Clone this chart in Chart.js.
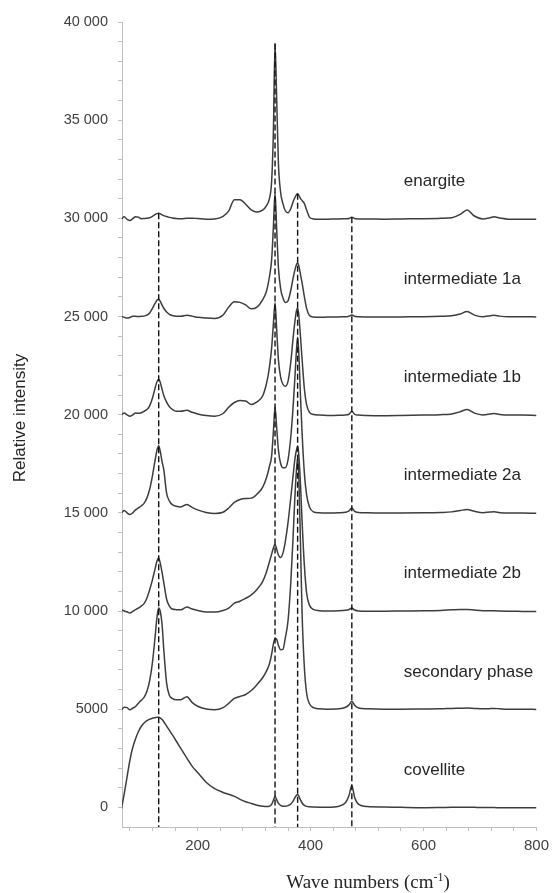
<!DOCTYPE html>
<html>
<head>
<meta charset="utf-8">
<script src="https://cdn.jsdelivr.net/npm/chart.js@4"></script>
<style>
  html, body { margin: 0; padding: 0; background: #fff; }
  #wrap { width: 555px; height: 893px; }
</style>
</head>
<body>
<div id="wrap"><canvas id="spectra" width="555" height="893"></canvas></div>
<script>
// wave numbers (cm-1), shared by every spectrum
const wavenumbers = [
  65, 70, 75, 80, 85, 90, 95, 100, 105, 110,
  115, 120, 125, 128, 131, 134, 137, 140, 145, 150,
  155, 162, 170, 181, 190, 200, 215, 230, 245, 255,
  265, 275, 285, 295, 305, 315, 322, 327, 331, 334,
  337, 340, 343, 347, 351, 355, 360, 365, 369, 372,
  375, 377, 379, 382, 385, 389, 393, 398, 405, 415,
  430, 450, 462, 468, 473, 478, 485, 500, 530, 560,
  600, 630, 650, 665, 677, 690, 705, 718, 725, 735,
  750, 775, 800
];

// spectra, already stacked (offset 5000 apart)
const enargite = [
  29960, 30080, 29950, 29890, 29980, 30080, 30060, 29980, 29990, 30000,
  30030, 30100, 30200, 30240, 30260, 30230, 30180, 30140, 30090, 30050,
  30020, 29990, 29980, 30000, 30010, 29990, 29960, 29970, 30100, 30380,
  30950, 30950, 30720, 30430, 30320, 30420, 30650, 31000, 31900, 34300,
  38900, 36000, 32800, 31300, 30750, 30400, 30280, 30500, 30850, 31050,
  31200, 31250, 31180, 31020, 30900, 30750, 30420, 30060, 29970, 29950,
  29960, 29970, 29980, 29990, 30060, 29990, 29970, 29970, 29960, 29970,
  29980, 30000, 30030, 30200, 30430, 30120, 29970, 30030, 30080, 30020,
  29960, 29960, 29950
];
const intermediate1a = [
  25010, 24960, 24920, 24950, 25010, 25010, 25000, 25010, 25020, 25070,
  25180, 25420, 25690, 25830, 25880, 25760, 25580, 25420, 25230, 25110,
  25050, 25010, 25010, 25060, 25020, 24960, 24920, 24900, 25080, 25480,
  25750, 25720, 25590, 25390, 25480, 25850, 26300, 27000, 27900, 29500,
  31300, 29400, 27500, 26400, 25950, 25720, 25800, 26350, 26950, 27350,
  27650, 27720, 27600, 27150, 26700, 26000, 25400, 25050, 24970, 24960,
  24970, 24980, 24990, 25010, 25080, 25010, 24990, 24980, 24970, 24980,
  24990, 25010, 25040, 25130, 25250, 25070, 24990, 25040, 25070, 25020,
  24990, 24990, 24980
];
const intermediate1b = [
  20000, 20080, 19990, 19920, 19990, 20080, 20070, 20100, 20170, 20260,
  20450, 20850, 21400, 21680, 21800, 21620, 21280, 20980, 20640, 20400,
  20270, 20170, 20170, 20220, 20120, 20040, 19960, 19920, 20060, 20380,
  20620, 20720, 20700, 20520, 20650, 20950, 21600, 22400, 23400, 24600,
  25700, 24300, 22800, 21900, 21550, 21450, 21700, 22700, 23900, 24700,
  25300, 25450, 25100, 24000, 22800, 21300, 20500, 20120, 20010, 19980,
  19960, 19970, 19990, 20020, 20170, 20020, 19980, 19960, 19950, 19960,
  19980, 20000, 20040, 20150, 20260, 20080, 19990, 20030, 20060, 20010,
  19980, 19980, 19960
];
const intermediate2a = [
  15000, 15120, 15000, 14920, 15000, 15150, 15250, 15350, 15480, 15750,
  16200, 16900, 17750, 18200, 18420, 18100, 17600, 17200, 16000, 15600,
  15420, 15340, 15300, 15430, 15280, 15150, 15020, 14970, 15030, 15250,
  15530, 15680, 15730, 15750, 15950, 16300, 16800, 17350, 17900, 19100,
  20400, 19300, 18200, 17500, 17300, 17300, 17700, 18900, 20400, 21800,
  23300, 23950, 23200, 21000, 19000, 17000, 15900, 15300, 15050, 15000,
  14990, 15000, 15030, 15100, 15250, 15080, 15020, 15000, 14990, 14990,
  15000, 15020, 15050, 15120, 15170, 15080, 15010, 15040, 15050, 15010,
  14990, 14990, 14980
];
const intermediate2b = [
  10070, 10000, 9960, 9900, 9980, 10070, 10150, 10250, 10380, 10650,
  11080, 11600, 12200, 12550, 12700, 12400, 11950, 11450, 10600, 10250,
  10100, 10070, 10060, 10200, 10100, 10030, 9950, 9950, 10030, 10150,
  10400, 10500, 10650, 10820, 11100, 11500, 12000, 12500, 12900, 13200,
  13400, 13150, 12850, 12720, 12950, 13500, 14500, 15800, 16900, 17700,
  18200, 18400, 18000, 16500, 14500, 12300, 10900, 10300, 10080, 10020,
  10000, 10010, 10040, 10080, 10150, 10050, 10000, 9990, 9990, 10000,
  10010, 10030, 10060, 10080, 10080, 10050, 10020, 10010, 10010, 10000,
  9990, 9980, 9970
];
const secondaryPhase = [
  4970, 5100, 5080, 4970, 5050, 5140, 5300, 5450, 5600, 5900,
  6450, 7400, 8800, 9700, 10150, 9950, 9300, 8030, 6330, 5700,
  5550, 5480, 5480, 5640, 5350, 5150, 5010, 4970, 5080, 5300,
  5550, 5650, 5750, 5950, 6250, 6600, 6950, 7300, 7800, 8300,
  8600, 8550, 8250, 8030, 8050, 8600, 9500, 11500, 13800, 15700,
  17200, 17800, 17000, 13500, 9800, 7100, 5800, 5280, 5080, 5020,
  5000, 5020, 5100, 5220, 5400, 5200, 5060, 5020, 5000, 5000,
  5010, 5020, 5040, 5050, 5060, 5040, 5020, 5030, 5040, 5020,
  5000, 5000, 4990
];
const covellite = [
  -80, 700, 1550, 2400, 3050, 3500, 3850, 4120, 4300, 4420,
  4490, 4540, 4570, 4585, 4590, 4550, 4470, 4360, 4140, 3920,
  3700, 3380, 3000, 2500, 2100, 1770, 1280, 950, 760, 670,
  560, 410, 290, 200, 110, 60, 40, 60, 150, 350,
  560, 380, 200, 100, 60, 60, 90, 170, 320, 480,
  620, 650, 580, 380, 220, 100, 50, 30, 20, 10,
  10, 60, 250, 600, 1120, 500, 150, 40, 20, 0,
  -20, -10, 0, 0, 10, 0, -10, -10, -10, -20,
  -20, -20, -20
];

const phaseNames = ['enargite', 'intermediate 1a', 'intermediate 1b', 'intermediate 2a', 'intermediate 2b', 'secondary phase', 'covellite'];
const phaseSeries = [enargite, intermediate1a, intermediate1b, intermediate2a, intermediate2b, secondaryPhase, covellite];
const phaseOffsets = [30000, 25000, 20000, 15000, 10000, 5000, 0];

// dashed reference lines: position and the height they start from
const bandPositions = [131, 337, 377, 473];
const bandTops = [30260, 38900, 31250, 30060];

const yMajorTicks = [0, 5000, 10000, 15000, 20000, 25000, 30000, 35000, 40000];
const xMajorTicks = [200, 400, 600, 800];
const yMinorStep = 1000;
const xMinorStep = 40;

const X_MIN = 66, X_MAX = 800, Y_MIN = -1000, Y_MAX = 40000;
const AXIS_GREY = '#bfbfbf';
const TEXT = '#262626';

function fmtThousands(v) {
  if (Math.abs(v) < 10000) return String(v);
  return String(v).replace(/\B(?=(\d{3})+(?!\d))/g, ' ');
}

function stepTicks(from, to, step) {
  const out = [];
  for (let v = from; v <= to; v += step) out.push({ value: v });
  return out;
}

const datasets = phaseSeries.map((vals, i) => ({
  label: phaseNames[i],
  data: wavenumbers.map((w, j) => ({ x: w, y: vals[j] })),
  borderColor: '#3d3d3d',
  borderWidth: 1.5,
  pointRadius: 0,
  cubicInterpolationMode: 'monotone',
  order: 2
}));

bandPositions.forEach((b, i) => {
  datasets.push({
    label: 'band ' + b,
    data: [{ x: b, y: bandTops[i] }, { x: b, y: Y_MIN }],
    borderColor: '#111',
    borderWidth: 1.4,
    borderDash: [6, 3],
    pointRadius: 0,
    tension: 0,
    order: 1
  });
});

const textPlugin = {
  id: 'spectraText',
  afterDraw(chart) {
    const { ctx, scales: { x, y } } = chart;
    ctx.save();
    ctx.fillStyle = TEXT;

    // phase names next to each trace
    ctx.font = '17px "Liberation Sans", Arial, sans-serif';
    ctx.textBaseline = 'middle';
    ctx.textAlign = 'left';
    phaseNames.forEach((name, i) => {
      ctx.fillText(name, x.getPixelForValue(565), y.getPixelForValue(phaseOffsets[i] + 1900));
    });

    // y title
    ctx.save();
    ctx.translate(20, 418);
    ctx.rotate(-Math.PI / 2);
    ctx.textAlign = 'center';
    ctx.fillText('Relative intensity', 0, 0);
    ctx.restore();

    // x title with superscript
    const mainFont = '19px "Liberation Serif", "Times New Roman", serif';
    const supFont = '12px "Liberation Serif", "Times New Roman", serif';
    const t1 = 'Wave numbers (cm', t2 = '-1', t3 = ')';
    ctx.textBaseline = 'alphabetic';
    ctx.textAlign = 'left';
    ctx.font = mainFont;
    const w1 = ctx.measureText(t1).width, w3 = ctx.measureText(t3).width;
    ctx.font = supFont;
    const w2 = ctx.measureText(t2).width;
    let sx = 368 - (w1 + w2 + w3) / 2;
    const base = 887.5;
    ctx.font = mainFont;
    ctx.fillText(t1, sx, base);
    ctx.font = supFont;
    ctx.fillText(t2, sx + w1, base - 7);
    ctx.font = mainFont;
    ctx.fillText(t3, sx + w1 + w2, base);
    ctx.restore();
  }
};

Chart.defaults.font.family = '"Liberation Sans", Arial, sans-serif';
Chart.defaults.color = '#404040';

new Chart(document.getElementById('spectra'), {
  type: 'line',
  data: { datasets },
  options: {
    responsive: false,
    animation: false,
    layout: { padding: { top: 22, right: 15, bottom: 0, left: 0 } },
    plugins: { legend: { display: false }, tooltip: { enabled: false } },
    scales: {
      x: {
        type: 'linear',
        min: X_MIN,
        max: X_MAX,
        afterBuildTicks: s => { s.ticks = stepTicks(80, 800, xMinorStep); },
        afterFit: s => { s.height = 66; },
        ticks: {
          autoSkip: false,
          maxRotation: 0,
          padding: 6,
          font: { size: 15 },
          color: '#404040',
          callback: v => xMajorTicks.includes(v) ? String(v) : ''
        },
        grid: { drawOnChartArea: false, color: AXIS_GREY, tickLength: 4 },
        border: { color: AXIS_GREY, width: 1 }
      },
      y: {
        type: 'linear',
        min: Y_MIN,
        max: Y_MAX,
        afterBuildTicks: s => { s.ticks = stepTicks(0, Y_MAX, yMinorStep); },
        afterFit: s => { s.width = 122; },
        ticks: {
          autoSkip: false,
          padding: 10,
          font: { size: 14.5 },
          color: '#404040',
          callback: v => yMajorTicks.includes(v) ? fmtThousands(v) : ''
        },
        grid: { drawOnChartArea: false, color: AXIS_GREY, tickLength: 4 },
        border: { color: AXIS_GREY, width: 1 }
      }
    }
  },
  plugins: [textPlugin]
});
</script>
</body>
</html>
